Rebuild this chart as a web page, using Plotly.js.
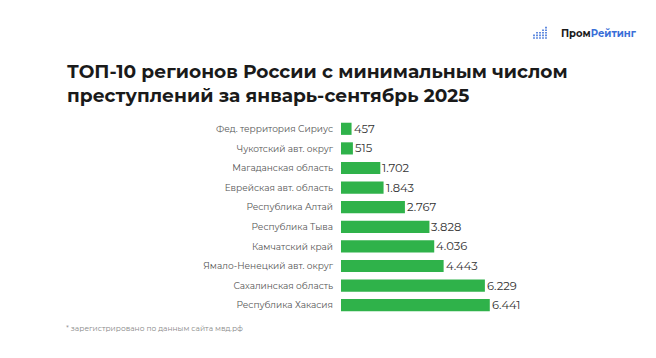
<!DOCTYPE html>
<html>
<head>
<meta charset="utf-8">
<script src="https://cdn.plot.ly/plotly-3.0.1.min.js"></script>
<style>html,body{margin:0;padding:0;background:#fff}#chart{width:656px;height:358px}</style>
</head>
<body>
<div id="chart"></div>
<script>
const regions = [
  "Фед. территория Сириус",
  "Чукотский авт. округ",
  "Магаданская область",
  "Еврейская авт. область",
  "Республика Алтай",
  "Республика Тыва",
  "Камчатский край",
  "Ямало-Ненецкий авт. округ",
  "Сахалинская область",
  "Республика Хакасия"
];
const crimes = [457, 515, 1702, 1843, 2767, 3828, 4036, 4443, 6229, 6441];
const titleText = "ТОП-10 регионов России с минимальным числом<br>преступлений за январь-сентябрь 2025";
const footnote = "* зарегистрировано по данным сайта мвд.рф";

const W = 656, H = 358;
const mL = 341, mR = 84, mT = 119, mB = 43;
const pw = W - mL - mR, ph = H - mT - mB;
const px = x => (x - mL) / pw;
const py = y => (H - mB - y) / ph;

// logo dots icon
const dotCols = [2, 3, 3, 4, 5];
const shapes = [];
dotCols.forEach((n, c) => {
  for (let k = 0; k < n; k++) {
    const cx = 534 + c * 3, cy = 38 - k * 2.6;
    shapes.push({type: 'rect', xref: 'paper', yref: 'paper',
      x0: px(cx - 0.8), x1: px(cx + 0.8), y0: py(cy + 0.8), y1: py(cy - 0.8),
      fillcolor: '#3a6fd8', line: {width: 0}});
  }
});

const trace = {
  type: 'bar', orientation: 'h',
  y: regions, x: crimes,
  marker: {color: '#2fb24a', line: {width: 0}},
  width: 0.62,
  hoverinfo: 'none'
};

const valueLabels = crimes.map((v, i) => ({
  x: v, y: regions[i], xref: 'x', yref: 'y',
  text: v.toLocaleString('de-DE'), showarrow: false,
  xanchor: 'left', yanchor: 'middle',
  font: {family: 'Montserrat, "Open Sans", sans-serif', size: 11.5, color: '#333'}
}));

const layout = {
  width: W, height: H,
  margin: {l: mL, r: mR, t: mT, b: mB},
  paper_bgcolor: '#fff', plot_bgcolor: '#fff',
  showlegend: false,
  separators: ',.',
  xaxis: {range: [0, 10000], visible: false, fixedrange: true},
  yaxis: {autorange: 'reversed', showgrid: false, zeroline: false, showline: false,
    ticks: '', ticklabelstandoff: 7,
    tickfont: {family: 'Montserrat, "Open Sans", sans-serif', size: 9, color: '#555'}},
  shapes: shapes,
  annotations: valueLabels.concat([
    {text: '<b>' + titleText + '</b>', xref: 'paper', yref: 'paper', x: px(65), y: py(58),
     xanchor: 'left', yanchor: 'top', align: 'left', showarrow: false,
     font: {family: 'Montserrat, "Open Sans", sans-serif', size: 18.6, color: '#1a1a1a'}},
    {text: footnote, xref: 'paper', yref: 'paper', x: px(64), y: py(328),
     xanchor: 'left', yanchor: 'middle', showarrow: false,
     font: {family: 'Montserrat, "Open Sans", sans-serif', size: 7.5, color: '#8a8a8a'}},
    {text: '<b>Пром</b><b><span style="color:#3a6fd8">Рейтинг</span></b>', xref: 'paper', yref: 'paper',
     x: px(559), y: py(33), xanchor: 'left', yanchor: 'middle', showarrow: false,
     font: {family: 'Montserrat, "Open Sans", sans-serif', size: 10, color: '#1a1a1a'}}
  ])
};

Plotly.newPlot('chart', [trace], layout, {displayModeBar: false, staticPlot: true});
</script>
</body>
</html>
